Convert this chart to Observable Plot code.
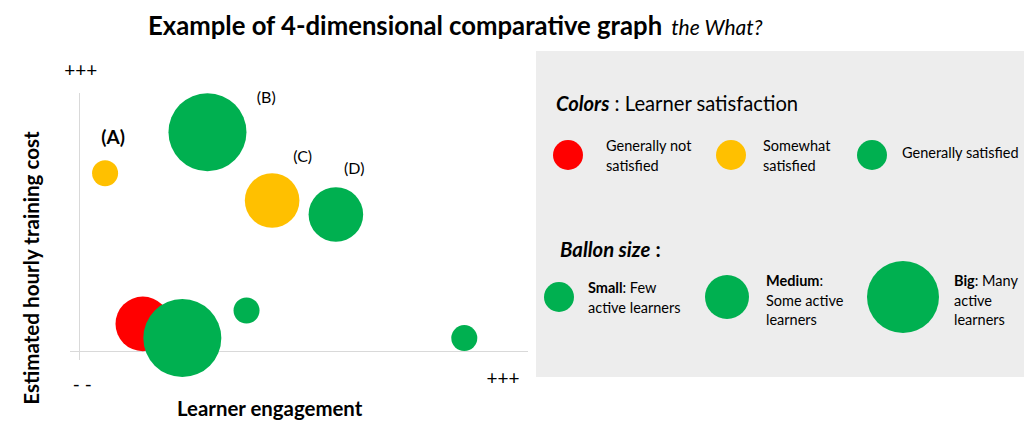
<!DOCTYPE html>
<html>
<head>
<meta charset="utf-8">
<script src="https://cdn.jsdelivr.net/npm/d3@7"></script>
<script src="https://cdn.jsdelivr.net/npm/@observablehq/plot@0.6"></script>
<style>
  html, body { margin:0; padding:0; background:#fff; }
  #wrap { position:relative; width:1024px; height:436px; overflow:hidden; font-family:Lato, "Open Sans", sans-serif; color:#000; }
  #wrap svg { position:absolute; left:0; top:0; }
  .t { position:absolute; white-space:nowrap; line-height:1.2; transform:translateY(-50%); }
  .sw { position:absolute; border-radius:50%; transform:translate(-50%,-50%); }
</style>
</head>
<body>
<div id="wrap"></div>
<script>
// ---- data ----
const satisfactionLevels = ["Generally not satisfied", "Somewhat satisfied", "Generally satisfied"];
const satisfactionColors = ["#ff0000", "#ffc000", "#00b050"];

const engagement     = [0.57, 2.85, 4.29, 5.71, 1.41, 2.29, 3.72, 8.57];
const hourlyCost     = [6.91, 8.50, 5.85, 5.31, 1.07, 0.52, 1.59, 0.52];
const satisfaction   = ["Somewhat satisfied", "Generally satisfied", "Somewhat satisfied", "Generally satisfied",
                        "Generally not satisfied", "Generally satisfied", "Generally satisfied", "Generally satisfied"];
const activeLearners = [1, 3, 2.1, 2.1, 2.1, 3, 1, 1];

const pointLabels = ["(A)", "(B)", "(C)", "(D)"];
const pointLabelX = [0.75, 4.16, 4.97, 6.12];
const pointLabelY = [8.26, 9.83, 7.53, 7.09];

const endLabels = ["+++", "- -", "+++"];
const endLabelX = [0.03, 0.06, 9.43];
const endLabelY = [10.89, -1.28, -1.05];

const sizeLevels = ["Small", "Medium", "Big"];
const sizeRest = [[": Few", "active learners"], [":", "Some active", "learners"], [": Many", "active", "learners"]];

// ---- build ----
const bubbles = engagement.map((x, i) => ({x, y: hourlyCost[i], s: satisfaction[i], r: activeLearners[i]}));
const labels = pointLabels.map((t, i) => ({t, x: pointLabelX[i], y: pointLabelY[i]}));
const ends = endLabels.map((t, i) => ({t, x: endLabelX[i], y: endLabelY[i]}));

const chart = Plot.plot({
  width: 1024, height: 436,
  marginLeft: 79, marginRight: 496, marginTop: 93, marginBottom: 85,
  x: {domain: [0, 10], axis: null},
  y: {domain: [0, 10], axis: null},
  color: {domain: satisfactionLevels, range: satisfactionColors},
  r: {type: "linear", domain: [0, 3], range: [0, 39]},
  style: {fontFamily: "Lato, 'Open Sans', sans-serif", background: "transparent", overflow: "visible"},
  marks: [
    Plot.ruleY([0], {x1: -0.2, x2: 10, stroke: "#d9d9d9", strokeWidth: 1}),
    Plot.ruleX([0], {y1: -0.35, y2: 10, stroke: "#d9d9d9", strokeWidth: 1}),
    Plot.dot(bubbles, {x: "x", y: "y", r: "r", fill: "s", stroke: "none", sort: null}),
    Plot.text(labels.slice(0, 1), {x: "x", y: "y", text: "t", fontSize: 19, fontWeight: "bold", fill: "#000"}),
    Plot.text(labels.slice(1), {x: "x", y: "y", text: "t", fontSize: 16, fill: "#000"}),
    Plot.text(ends, {x: "x", y: "y", text: "t", fontSize: 19, fill: "#000"})
  ]
});

const wrap = document.getElementById("wrap");
wrap.appendChild(chart);

function addText(html, x, y, style) {
  const d = document.createElement("div");
  d.className = "t";
  d.innerHTML = html;
  d.style.left = x + "px";
  d.style.top = y + "px";
  if (style) Object.assign(d.style, style);
  wrap.appendChild(d);
  return d;
}
function addSwatch(x, y, r, color) {
  const d = document.createElement("div");
  d.className = "sw";
  d.style.left = x + "px"; d.style.top = y + "px";
  d.style.width = (2 * r) + "px"; d.style.height = (2 * r) + "px";
  d.style.background = color;
  wrap.appendChild(d);
}

// title
addText('<span style="font-weight:bold;font-size:25.7px">Example of 4-dimensional comparative graph</span><span style="font-style:italic;font-size:21px;margin-left:9px">the What?</span>', 148, 25);

// axis titles
addText("Learner engagement", 177, 408, {fontWeight: "bold", fontSize: "20.4px"});
const yt = addText("Estimated hourly training cost", 31, 268, {fontWeight: "bold", fontSize: "20.6px"});
yt.style.transform = "translate(-50%,-50%) rotate(-90deg)";

// legend box
const box = document.createElement("div");
Object.assign(box.style, {position: "absolute", left: "536px", top: "51px", width: "488px", height: "326px", background: "#ededed"});
wrap.appendChild(box);

addText('<b><i>Colors</i></b> : Learner satisfaction', 556, 103, {fontSize: "20.2px"});
const colorSwX = [568, 731, 872];
const colorTextX = [606, 763, 902];
const colorLines = [["Generally not", "satisfied"], ["Somewhat", "satisfied"], ["Generally satisfied"]];
satisfactionLevels.forEach((lvl, i) => {
  addSwatch(colorSwX[i], 155, 15, satisfactionColors[i]);
  addText(colorLines[i].join("<br>"), colorTextX[i], i === 2 ? 153 : 155, {fontSize: "14.5px", lineHeight: "19.5px"});
});

addText('<b><i>Ballon size</i></b> <b>:</b>', 560, 249, {fontSize: "20.3px"});
const sizeSwX = [559, 727, 903];
const sizeSwR = [15, 22, 36];
const sizeTextX = [588, 766, 954];
sizeLevels.forEach((lvl, i) => {
  addSwatch(sizeSwX[i], 297, sizeSwR[i], satisfactionColors[2]);
  const lines = sizeRest[i].slice();
  lines[0] = "<b>" + lvl + "</b>" + lines[0];
  addText(lines.join("<br>"), sizeTextX[i], i === 0 ? 297 : 300, {fontSize: "14.5px", lineHeight: "19.5px"});
});
</script>
</body>
</html>
